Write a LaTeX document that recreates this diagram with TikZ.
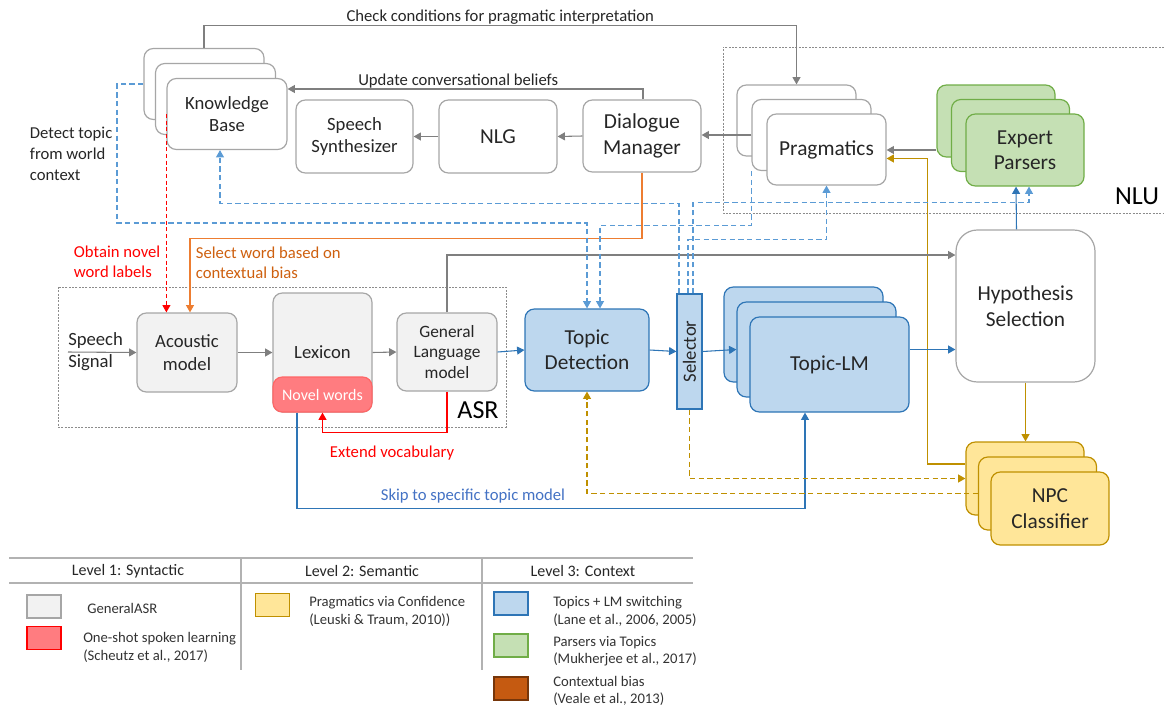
\documentclass[tikz,border=0pt]{standalone}
\usepackage{fontspec}
\setmainfont{Carlito}
\usetikzlibrary{arrows.meta,calc}

\definecolor{linegray}{HTML}{7F7F7F}
\definecolor{boxgray}{HTML}{A6A6A6}
\definecolor{asrfill}{HTML}{F2F2F2}
\definecolor{novelred}{HTML}{FF7C80}
\definecolor{topicfill}{HTML}{BDD7EE}
\definecolor{topicblue}{HTML}{2E75B6}
\definecolor{dashblue}{HTML}{5B9BD5}
\definecolor{parsefill}{HTML}{C5E0B4}
\definecolor{parsegreen}{HTML}{70AD47}
\definecolor{npcfill}{HTML}{FFE699}
\definecolor{npcgold}{HTML}{BF9000}
\definecolor{biasorange}{HTML}{ED7D31}
\definecolor{biasbrown}{HTML}{C55A11}
\definecolor{skipblue}{HTML}{4472C4}

\begin{document}
\begin{tikzpicture}[x=0.75pt, y=-0.75pt,
    sz/.style 2 args={minimum width=#1*0.75pt, minimum height=#2*0.75pt},
    box/.style={draw=boxgray, fill=white, line width=0.9pt, rounded corners=7pt,
      align=center, inner sep=0pt, text=black!85, font=\fontsize{16}{19}\selectfont},
    small/.style={font=\fontsize{14}{17}\selectfont},
    asrbox/.style={box, small, fill=asrfill},
    topicbox/.style={box, draw=topicblue, fill=topicfill},
    parsebox/.style={box, draw=parsegreen, fill=parsefill},
    npcbox/.style={box, draw=npcgold, fill=npcfill},
    lbl/.style={inner sep=0.5pt, align=left, text=black!85, font=\fontsize{12.5}{15.75}\selectfont},
    tip/.style={-{Triangle[width=6pt,length=5.5pt]}},
    garrow/.style={tip, draw=linegray, line width=0.8pt},
    barrow/.style={tip, draw=topicblue, line width=0.8pt},
    bdash/.style={tip, draw=dashblue, line width=0.8pt, dash pattern=on 4pt off 2.5pt},
    yarrow/.style={tip, draw=npcgold, line width=0.8pt},
    ydash/.style={yarrow, dash pattern=on 4pt off 2.5pt},
    rarrow/.style={tip, draw=red, line width=0.8pt},
    rdash/.style={rarrow, dash pattern=on 3pt off 2pt},
    oarrow/.style={tip, draw=biasorange, line width=0.8pt},
    region/.style={draw=black!45, line width=0.7pt, dash pattern=on 1.5pt off 1pt},
    legbox/.style={line width=0.8pt, sz={34}{23}},
    legtxt/.style={anchor=west, inner sep=0pt, align=left, text=black!80,
      font=\fontsize{11}{13}\selectfont},
    leghead/.style={inner sep=0pt, text=black!85, font=\fontsize{12}{14}\selectfont},
    legline/.style={draw=black!30, line width=0.9pt}
  ]
  \useasboundingbox (0,0) rectangle (1164,711);

  % dashed regions
  \draw[region] (58,287) rectangle (506,427);
  \draw[region] (1164,47) -| (723,213) -- (1164,213);
  \node[font=\fontsize{19.5}{22}\selectfont] (asrlbl) at (478,410) {ASR};
  \node[font=\fontsize{19.5}{22}\selectfont] (nlulbl) at (1137,196) {NLU};

  % top row
  \node[box, small, sz={120}{71}] (kb3) at (204,84) {};
  \node[box, small, sz={120}{71}] (kb2) at (215.5,99) {};
  \node[box, small, sz={120}{71}] (kb) at (227,114) {Knowledge\\Base};
  \node[box, small, sz={117}{73}] (syn) at (354.5,136.5) {Speech\\Synthesizer};
  \node[box, sz={118}{73}] (nlg) at (498,136.5) {NLG};
  \node[box, sz={118}{72}] (dm) at (642,136) {Dialogue\\Manager};
  \node[box, sz={119}{71}] (prag3) at (796.5,120.5) {};
  \node[box, sz={119}{71}] (prag2) at (811.5,135) {};
  \node[box, sz={119}{71}] (prag) at (826.5,149.5) {Pragmatics};
  \node[parsebox, sz={118}{72}] (ep3) at (996,121) {};
  \node[parsebox, sz={118}{72}] (ep2) at (1010.5,135.5) {};
  \node[parsebox, sz={118}{72}] (ep) at (1025,150) {Expert\\Parsers};

  % ASR row
  \node[lbl, anchor=west, inner sep=0pt, font=\fontsize{14}{16.5}\selectfont] (ss) at (68,352) {Speech\\Signal};
  \node[asrbox, sz={100}{79}] (am) at (187,352.5) {Acoustic\\model};
  \node[asrbox, sz={99}{119}] (lex) at (322.5,352.5) {Lexicon};
  \node[box, draw=red!60, fill=novelred, text=white, sz={99}{35},
    font=\fontsize{12}{14}\selectfont] (nw) at (322.5,394.5) {Novel words};
  \node[asrbox, sz={100}{78}, font=\fontsize{13}{15.5}\selectfont] (glm) at (447,352) {General\\Language\\model};
  \node[topicbox, sz={124}{82}] (td) at (587,350) {Topic\\Detection};
  \node[topicbox, rounded corners=0pt, sz={25}{115}] (sel) at (689.5,351.5) {};
  \node[rotate=90, inner sep=0pt, text=black!85, font=\fontsize{14}{17}\selectfont] (seltxt) at (sel.center) {Selector};
  \node[topicbox, sz={159}{95}] (tlm3) at (803.5,334.5) {};
  \node[topicbox, sz={159}{95}] (tlm2) at (816.5,349.5) {};
  \node[topicbox, sz={159}{95}] (tlm) at (829.5,364.5) {Topic-LM};
  \node[box, rounded corners=16pt, sz={139}{152}] (hyp) at (1025.5,306) {Hypothesis\\Selection};
  \node[npcbox, sz={118}{73}] (npc3) at (1025,478.5) {};
  \node[npcbox, sz={118}{73}] (npc2) at (1037.5,493.5) {};
  \node[npcbox, sz={118}{73}] (npc) at (1050,508.5) {NPC\\Classifier};

  % dialogue flow
  \draw[garrow] (kb3.north) |- ($(prag3.north)+(0,-59)$)
    node[lbl, pos=0.75, above] (lblcheck) {Check conditions for pragmatic interpretation}
    -- (prag3.north);
  \draw[garrow] ($(dm.north)+(1,0)$) |- ($(kb.east)+(0,-25)$)
    node[lbl, pos=0.76, above] (lblupdate) {Update conversational beliefs};
  \draw[garrow] (dm.west) -- (nlg.east);
  \draw[garrow] (nlg.west) -- (syn.east);
  \draw[garrow] (prag2.west) -- (prag2.west -| dm.east);
  \draw[garrow] (ep3.west |- ep.center) -- (prag.east |- ep.center);
  \draw[yarrow] ($(npc3.west)+(0,-14.5)$) -| ($(prag.east)+(41,9)$) -- ($(prag.east)+(0,9)$);
  \draw[yarrow] (hyp.south) -- (hyp.south |- npc3.north);
  \draw[barrow] ($(hyp.north)+(-9,0)$) -- ($(ep.south)+(-9,0)$);

  % ASR flow
  \draw[garrow] (ss.west) -- (am.west);
  \draw[garrow] (am.east) -- (lex.west);
  \draw[garrow] (lex.east) -- (glm.west);
  \draw[barrow] (glm.east) -- (td.west);
  \draw[barrow] (td.east) -- (sel.west);
  \draw[barrow] (sel.east) -- (tlm2.west);
  \draw[barrow] (tlm.east |- tlm2.center) -- (hyp.west |- tlm2.center);
  \draw[garrow] (glm.north) |- ($(hyp.west)+(0,-51)$);
  \draw[rarrow] (glm.south) |- ($(nw.south)+(0,20)$) -- (nw.south);
  \draw[barrow] ($(nw.south)+(-25.5,0)$) |- ($(tlm.south)+(-24.5,96)$) -- ($(tlm.south)+(-24.5,0)$);
  \draw[rdash] (kb.west) -- (kb.west |- am.north);
  \draw[oarrow] (dm.south) |- ($(am.north)+(3,-74)$) -- ($(am.north)+(3,0)$);

  % topic signals
  \draw[bdash] (kb3.west) -| (117,223) -| (td.north);
  \draw[bdash] ($(sel.north)+(-10.5,0)$) |- ($(kb.south)+(-7,53)$) -- ($(kb.south)+(-7,0)$);
  \draw[bdash] (prag2.south west) |- ($(td.north)+(13,-83)$) -- ($(td.north)+(13,0)$);
  \draw[bdash] ($(sel.north)+(3.5,0)$) |- ($(ep.south)+(4,16)$) -- ($(ep.south)+(4,0)$);
  \draw[bdash] ($(sel.north)+(-1.5,0)$) |- ($(prag.south)+(0,54)$) -- (prag.south);
  \draw[ydash] (sel.south) |- (npc3.west);
  \draw[ydash] (npc2.west) -| (td.south);

  % labels
  \node[lbl, anchor=west] (lbldetect) at (29,154) {Detect topic\\from world\\context};
  \node[lbl, anchor=west, text=red, font=\fontsize{12.5}{15}\selectfont] (lblobtain) at (73,262) {Obtain novel\\word labels};
  \node[lbl, anchor=west, text=biasbrown!85!orange, font=\fontsize{12.5}{15}\selectfont] (lblselect) at (195,263) {Select word based on\\contextual bias};
  \node[lbl, text=red] (lblextend) at (392,453) {Extend vocabulary};
  \node[lbl, text=skipblue] (lblskip) at (473,496) {Skip to specific topic model};

  % legend
  \draw[legline] (9,558) -- (693,558);
  \draw[legline] (9,583) -- (693,583);
  \foreach \lx in {241,482}
    \draw[legline] (\lx,558) -- (\lx,670);
  \node[leghead] (lh1) at (128,571) {Level 1: Syntactic};
  \node[leghead] (lh2) at (362,571) {Level 2: Semantic};
  \node[leghead] (lh3) at (583,571) {Level 3: Context};
  \node[legbox, draw=boxgray, fill=asrfill] (lg1) at (44,606.5) {};
  \node[legtxt] (lt1) at (87,608) {GeneralASR};
  \node[legbox, draw=red, fill=novelred] (lg2) at (44,638) {};
  \node[legtxt] (lt2) at (83,647.5) {One-shot spoken learning\\(Scheutz et al., 2017)};
  \node[legbox, draw=npcgold, fill=npcfill] (lg3) at (272.5,605) {};
  \node[legtxt] (lt3) at (309,611.5) {Pragmatics via Confidence\\(Leuski \& Traum, 2010))};
  \node[legbox, draw=topicblue, fill=topicfill] (lg4) at (511,603.5) {};
  \node[legtxt] (lt4) at (553,611.5) {Topics + LM switching\\(Lane et al., 2006, 2005)};
  \node[legbox, draw=parsegreen, fill=parsefill] (lg5) at (511,645.5) {};
  \node[legtxt] (lt5) at (553,651) {Parsers via Topics\\(Mukherjee et al., 2017)};
  \node[legbox, draw=biasbrown!60!black, fill=biasbrown] (lg6) at (511,688.5) {};
  \node[legtxt] (lt6) at (553,691) {Contextual bias\\(Veale et al., 2013)};
\end{tikzpicture}
\end{document}
